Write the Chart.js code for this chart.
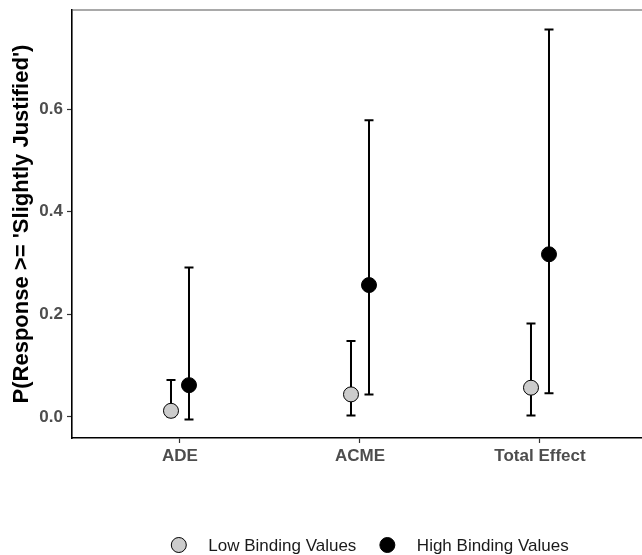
<!DOCTYPE html>
<html>
<head>
<meta charset="utf-8">
<script src="https://cdn.jsdelivr.net/npm/chart.js@4"></script>
<style>
  html, body { margin: 0; padding: 0; background: #ffffff; overflow: hidden; }
  #wrap { width: 642px; height: 555px; position: relative; }
</style>
</head>
<body>
<div id="wrap"><canvas id="c" width="642" height="555"></canvas></div>
<script>
// ---- data ----
const categories = ['ADE', 'ACME', 'Total Effect'];
const seriesLabels = ['Low Binding Values', 'High Binding Values'];
const lowEst = [0.012, 0.044, 0.057];
const lowLo  = [0.001, 0.003, 0.003];
const lowHi  = [0.072, 0.148, 0.182];
const highEst = [0.062, 0.257, 0.317];
const highLo  = [-0.005, 0.044, 0.046];
const highHi  = [0.291, 0.578, 0.755];
const yTicks = [0, 0.2, 0.4, 0.6];
const yTitle = "P(Response >= 'Slightly Justified')";

// ---- styling ----
const FONT = "'Liberation Sans', Arial, Helvetica, sans-serif";
const DODGE = 0.05;

function pts(est, off) {
  return est.map((v, i) => ({ x: i + off, y: v }));
}

const errorBarPlugin = {
  id: 'errorBars',
  beforeDatasetsDraw(chart) {
    const ctx = chart.ctx;
    const xs = chart.scales.x, ys = chart.scales.y;
    ctx.save();
    ctx.strokeStyle = '#000000';
    ctx.lineWidth = 2;
    chart.data.datasets.forEach(ds => {
      ds.data.forEach((p, i) => {
        const x = xs.getPixelForValue(p.x);
        const y1 = ys.getPixelForValue(ds.lo[i]);
        const y2 = ys.getPixelForValue(ds.hi[i]);
        const cap = 4.5;
        ctx.beginPath();
        ctx.moveTo(x, y1); ctx.lineTo(x, y2);
        ctx.moveTo(x - cap, y1); ctx.lineTo(x + cap, y1);
        ctx.moveTo(x - cap, y2); ctx.lineTo(x + cap, y2);
        ctx.stroke();
      });
    });
    ctx.restore();
  },
  afterDraw(chart) {
    const ctx = chart.ctx;
    const a = chart.chartArea;
    // top border line
    ctx.save();
    ctx.strokeStyle = '#555555';
    ctx.lineWidth = 1.2;
    ctx.beginPath();
    ctx.moveTo(a.left, a.top); ctx.lineTo(a.right, a.top);
    ctx.stroke();
    // legend
    ctx.font = '17px ' + FONT;
    ctx.textBaseline = 'middle';
    ctx.textAlign = 'left';
    const r = 7.5, gapText = 29.5, gapItem = 23.5;
    const items = chart.data.datasets.map(ds => ({
      label: ds.label, fill: ds.backgroundColor, w: ctx.measureText(ds.label).width
    }));
    let total = r;
    items.forEach((it, k) => { total += gapText + it.w + (k < items.length - 1 ? gapItem + r : 0); });
    const cx = (a.left + a.right) / 2 + 13;
    let x = cx - total / 2 + r;
    const y = 545;
    items.forEach(it => {
      ctx.beginPath();
      ctx.arc(x, y, r, 0, Math.PI * 2);
      ctx.fillStyle = it.fill;
      ctx.fill();
      ctx.lineWidth = 1;
      ctx.strokeStyle = '#000000';
      ctx.stroke();
      ctx.fillStyle = '#1a1a1a';
      ctx.fillText(it.label, x + gapText, y + 1);
      x += gapText + it.w + gapItem + r;
    });
    ctx.restore();
  }
};

const chart = new Chart(document.getElementById('c'), {
  type: 'scatter',
  data: {
    datasets: [
      {
        label: seriesLabels[0],
        data: pts(lowEst, -DODGE),
        lo: lowLo, hi: lowHi,
        backgroundColor: '#cccccc',
        borderColor: '#000000',
        borderWidth: 1,
        pointRadius: 7.5,
        pointHoverRadius: 7.5
      },
      {
        label: seriesLabels[1],
        data: pts(highEst, DODGE),
        lo: highLo, hi: highHi,
        backgroundColor: '#000000',
        borderColor: '#000000',
        borderWidth: 1,
        pointRadius: 7.5,
        pointHoverRadius: 7.5
      }
    ]
  },
  options: {
    responsive: false,
    animation: false,
    events: [],
    layout: { autoPadding: false, padding: { top: 10, right: 0, bottom: 0, left: 0 } },
    plugins: {
      legend: { display: false },
      tooltip: { enabled: false }
    },
    scales: {
      x: {
        type: 'linear',
        min: -0.6,
        max: 2.5667,
        afterBuildTicks(scale) { scale.ticks = categories.map((c, i) => ({ value: i })); },
        afterFit(scale) {
          scale.height = 117;
          scale.paddingLeft = 0; scale.paddingRight = 0;
          scale.paddingTop = 0; scale.paddingBottom = 0;
        },
        ticks: {
          callback: (v) => categories[v],
          color: '#4d4d4d',
          font: { family: FONT, size: 17, weight: 'bold' },
          padding: 3,
          maxRotation: 0,
          autoSkip: false
        },
        grid: { drawOnChartArea: false, drawTicks: true, tickLength: 5, tickColor: '#333333', tickWidth: 1.2 },
        border: { display: true, color: '#000000', width: 1.6 }
      },
      y: {
        min: -0.041,
        max: 0.793,
        afterBuildTicks(scale) { scale.ticks = yTicks.map(v => ({ value: v })); },
        afterFit(scale) {
          scale.width = 72;
          scale.paddingTop = 0; scale.paddingBottom = 0;
          scale.paddingLeft = 0; scale.paddingRight = 0;
        },
        ticks: {
          callback: (v) => Number(v).toFixed(1),
          color: '#4d4d4d',
          font: { family: FONT, size: 17, weight: 'bold' },
          padding: 4
        },
        title: {
          display: true,
          text: yTitle,
          color: '#000000',
          font: { family: FONT, size: 22, weight: 'bold' },
          padding: { top: 9, bottom: 0 }
        },
        grid: { drawOnChartArea: false, drawTicks: true, tickLength: 5, tickColor: '#333333', tickWidth: 1.2 },
        border: { display: true, color: '#000000', width: 1.6 }
      }
    }
  },
  plugins: [errorBarPlugin]
});
</script>
</body>
</html>
